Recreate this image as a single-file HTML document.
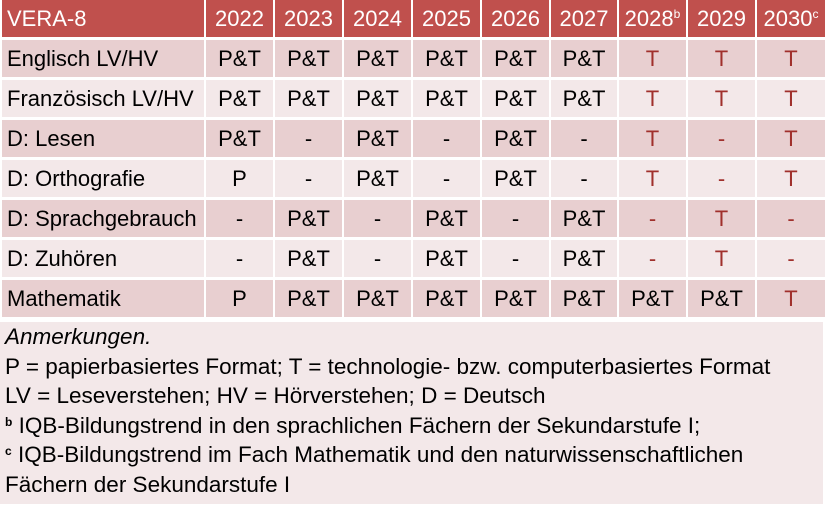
<!DOCTYPE html>
<html><head><meta charset="utf-8"><style>
html,body{margin:0;padding:0;background:#fff;}
body{width:825px;height:507px;overflow:hidden;font-family:"Liberation Sans",sans-serif;}
table{position:absolute;left:0;top:0;border-collapse:collapse;table-layout:fixed;width:825px;}
td{height:37px;padding:0;text-align:center;font-size:22px;color:#000;border:2px solid #fff;border-top:0;border-bottom:3px solid #fff;white-space:nowrap;overflow:hidden;}
td:first-child{text-align:left;padding-left:5px;}
tr.h td{background:#C0504D;color:#fff;height:37px;border-bottom:3px solid #fff;}
tr.o td{background:#E8CFD0;}
tr.e td{background:#F3E8E9;}
.r{color:#A0302C;}
sup{font-size:12px;vertical-align:8px;line-height:0;}
#notes{position:absolute;left:0;top:322px;width:823px;height:182px;background:#F3E8E9;font-size:22.5px;line-height:29.5px;padding:0 0 0 5px;box-sizing:border-box;white-space:nowrap;}
#notes div{height:29.5px;}
#notes sup{font-size:12px;font-weight:bold;vertical-align:7px;line-height:0;}
</style></head><body>
<table>
<colgroup><col style="width:204px"><col style="width:69px"><col style="width:69px"><col style="width:69px"><col style="width:69px"><col style="width:69px"><col style="width:68px"><col style="width:69px"><col style="width:69px"><col style="width:70px"></colgroup>
<tr class="h"><td>VERA-8</td><td>2022</td><td>2023</td><td>2024</td><td>2025</td><td>2026</td><td>2027</td><td>2028<sup>b</sup></td><td>2029</td><td>2030<sup>c</sup></td></tr>
<tr class="o"><td>Englisch LV/HV</td><td>P&amp;T</td><td>P&amp;T</td><td>P&amp;T</td><td>P&amp;T</td><td>P&amp;T</td><td>P&amp;T</td><td class="r">T</td><td class="r">T</td><td class="r">T</td></tr>
<tr class="e"><td>Französisch LV/HV</td><td>P&amp;T</td><td>P&amp;T</td><td>P&amp;T</td><td>P&amp;T</td><td>P&amp;T</td><td>P&amp;T</td><td class="r">T</td><td class="r">T</td><td class="r">T</td></tr>
<tr class="o"><td>D: Lesen</td><td>P&amp;T</td><td>-</td><td>P&amp;T</td><td>-</td><td>P&amp;T</td><td>-</td><td class="r">T</td><td class="r">-</td><td class="r">T</td></tr>
<tr class="e"><td>D: Orthografie</td><td>P</td><td>-</td><td>P&amp;T</td><td>-</td><td>P&amp;T</td><td>-</td><td class="r">T</td><td class="r">-</td><td class="r">T</td></tr>
<tr class="o"><td>D: Sprachgebrauch</td><td>-</td><td>P&amp;T</td><td>-</td><td>P&amp;T</td><td>-</td><td>P&amp;T</td><td class="r">-</td><td class="r">T</td><td class="r">-</td></tr>
<tr class="e"><td>D: Zuhören</td><td>-</td><td>P&amp;T</td><td>-</td><td>P&amp;T</td><td>-</td><td>P&amp;T</td><td class="r">-</td><td class="r">T</td><td class="r">-</td></tr>
<tr class="o"><td>Mathematik</td><td>P</td><td>P&amp;T</td><td>P&amp;T</td><td>P&amp;T</td><td>P&amp;T</td><td>P&amp;T</td><td>P&amp;T</td><td>P&amp;T</td><td class="r">T</td></tr>
</table>
<div id="notes">
<div><i>Anmerkungen.</i></div>
<div>P = papierbasiertes Format; T = technologie- bzw. computerbasiertes Format</div>
<div>LV = Leseverstehen; HV = Hörverstehen; D = Deutsch</div>
<div><sup>b</sup> IQB-Bildungstrend in den sprachlichen Fächern der Sekundarstufe I;</div>
<div><sup>c</sup> IQB-Bildungstrend im Fach Mathematik und den naturwissenschaftlichen</div>
<div>Fächern der Sekundarstufe I</div>
</div>
</body></html>
